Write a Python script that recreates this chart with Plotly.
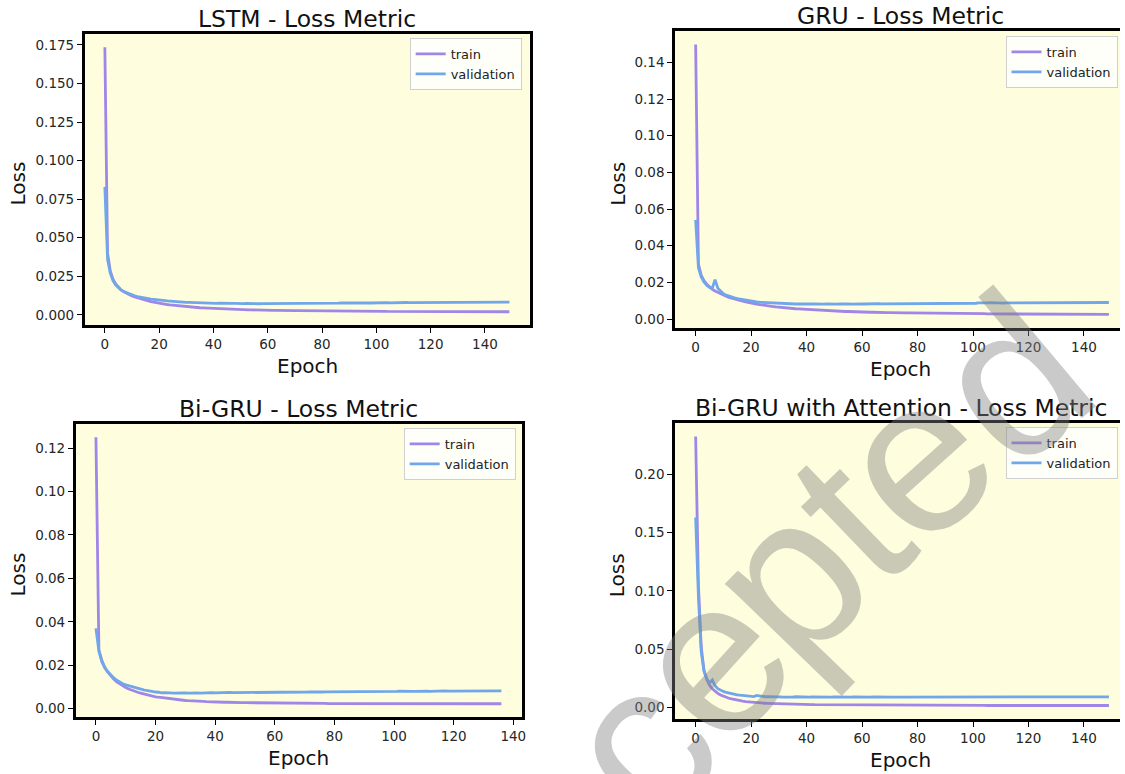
import plotly.graph_objects as go

# ---------------- data ----------------
EPOCHS = list(range(150))
BIGRU_EPOCHS = list(range(137))

LSTM_TRAIN = [
    0.1735, 0.0400, 0.0285, 0.0232, 0.0200, 0.0178, 0.0162, 0.0150, 0.0140, 0.0131,
    0.0123, 0.0116, 0.0110, 0.0104, 0.0099, 0.0094, 0.0090, 0.0086, 0.0082, 0.0078,
    0.0075, 0.0072, 0.0069, 0.0067, 0.0064, 0.0062, 0.0060, 0.0058, 0.0056, 0.0054,
    0.0053, 0.0051, 0.0050, 0.0048, 0.0047, 0.0046, 0.0045, 0.0044, 0.0043, 0.0042,
    0.0041, 0.0040, 0.0039, 0.0038, 0.0038, 0.0037, 0.0036, 0.0036, 0.0035, 0.0034,
    0.0034, 0.0033, 0.0033, 0.0032, 0.0032, 0.0031, 0.0031, 0.0031, 0.0030, 0.0030,
    0.0030, 0.0029, 0.0029, 0.0029, 0.0028, 0.0028, 0.0028, 0.0028, 0.0027, 0.0027,
    0.0027, 0.0027, 0.0027, 0.0026, 0.0026, 0.0026, 0.0026, 0.0026, 0.0025, 0.0025,
    0.0025, 0.0025, 0.0025, 0.0025, 0.0025, 0.0024, 0.0024, 0.0024, 0.0024, 0.0024,
    0.0024, 0.0024, 0.0024, 0.0023, 0.0023, 0.0023, 0.0023, 0.0023, 0.0023, 0.0023,
    0.0023, 0.0023, 0.0023, 0.0023, 0.0022, 0.0022, 0.0022, 0.0022, 0.0022, 0.0022,
    0.0022, 0.0022, 0.0022, 0.0022, 0.0022, 0.0022, 0.0022, 0.0022, 0.0022, 0.0021,
    0.0021, 0.0021, 0.0021, 0.0021, 0.0021, 0.0021, 0.0021, 0.0021, 0.0021, 0.0021,
    0.0021, 0.0021, 0.0021, 0.0021, 0.0021, 0.0021, 0.0021, 0.0021, 0.0021, 0.0021,
    0.0020, 0.0021, 0.0020, 0.0020, 0.0021, 0.0020, 0.0020, 0.0020, 0.0020, 0.0020,
]
LSTM_VAL = [
    0.0830, 0.0360, 0.0270, 0.0222, 0.0193, 0.0173, 0.0160, 0.0151, 0.0143, 0.0135,
    0.0128, 0.0124, 0.0119, 0.0115, 0.0111, 0.0108, 0.0104, 0.0102, 0.0100, 0.0097,
    0.0095, 0.0094, 0.0091, 0.0090, 0.0089, 0.0087, 0.0086, 0.0085, 0.0084, 0.0082,
    0.0081, 0.0081, 0.0080, 0.0079, 0.0079, 0.0078, 0.0077, 0.0078, 0.0076, 0.0076,
    0.0076, 0.0075, 0.0076, 0.0075, 0.0074, 0.0075, 0.0074, 0.0074, 0.0075, 0.0073,
    0.0074, 0.0073, 0.0074, 0.0073, 0.0073, 0.0074, 0.0073, 0.0072, 0.0073, 0.0073,
    0.0073, 0.0072, 0.0073, 0.0073, 0.0074, 0.0073, 0.0073, 0.0074, 0.0073, 0.0074,
    0.0074, 0.0073, 0.0074, 0.0075, 0.0074, 0.0074, 0.0075, 0.0074, 0.0075, 0.0075,
    0.0075, 0.0076, 0.0075, 0.0076, 0.0075, 0.0076, 0.0076, 0.0077, 0.0076, 0.0076,
    0.0077, 0.0076, 0.0077, 0.0077, 0.0078, 0.0077, 0.0077, 0.0078, 0.0077, 0.0078,
    0.0078, 0.0079, 0.0078, 0.0078, 0.0079, 0.0078, 0.0079, 0.0079, 0.0078, 0.0079,
    0.0079, 0.0080, 0.0079, 0.0079, 0.0080, 0.0079, 0.0080, 0.0080, 0.0079, 0.0080,
    0.0080, 0.0081, 0.0080, 0.0080, 0.0081, 0.0080, 0.0081, 0.0081, 0.0080, 0.0081,
    0.0081, 0.0082, 0.0081, 0.0081, 0.0082, 0.0083, 0.0082, 0.0081, 0.0082, 0.0082,
    0.0082, 0.0083, 0.0082, 0.0082, 0.0083, 0.0082, 0.0083, 0.0083, 0.0082, 0.0083,
]

GRU_TRAIN = [
    0.1497, 0.0300, 0.0240, 0.0210, 0.0190, 0.0175, 0.0162, 0.0153, 0.0145, 0.0137,
    0.0130, 0.0124, 0.0118, 0.0113, 0.0109, 0.0105, 0.0101, 0.0097, 0.0094, 0.0090,
    0.0087, 0.0084, 0.0081, 0.0079, 0.0076, 0.0074, 0.0072, 0.0070, 0.0068, 0.0066,
    0.0064, 0.0063, 0.0061, 0.0060, 0.0058, 0.0057, 0.0056, 0.0055, 0.0054, 0.0053,
    0.0052, 0.0051, 0.0050, 0.0049, 0.0048, 0.0047, 0.0047, 0.0046, 0.0045, 0.0044,
    0.0044, 0.0043, 0.0043, 0.0042, 0.0041, 0.0041, 0.0040, 0.0040, 0.0039, 0.0039,
    0.0038, 0.0038, 0.0038, 0.0037, 0.0037, 0.0036, 0.0036, 0.0036, 0.0035, 0.0035,
    0.0035, 0.0034, 0.0034, 0.0034, 0.0034, 0.0033, 0.0033, 0.0033, 0.0033, 0.0032,
    0.0032, 0.0032, 0.0032, 0.0032, 0.0031, 0.0031, 0.0031, 0.0031, 0.0031, 0.0030,
    0.0030, 0.0030, 0.0030, 0.0030, 0.0030, 0.0030, 0.0029, 0.0029, 0.0029, 0.0029,
    0.0029, 0.0029, 0.0029, 0.0029, 0.0029, 0.0028, 0.0028, 0.0028, 0.0028, 0.0028,
    0.0028, 0.0028, 0.0028, 0.0028, 0.0028, 0.0027, 0.0027, 0.0027, 0.0027, 0.0027,
    0.0027, 0.0027, 0.0027, 0.0027, 0.0027, 0.0027, 0.0027, 0.0026, 0.0026, 0.0026,
    0.0026, 0.0026, 0.0026, 0.0026, 0.0026, 0.0026, 0.0026, 0.0026, 0.0026, 0.0026,
    0.0026, 0.0025, 0.0026, 0.0025, 0.0025, 0.0025, 0.0025, 0.0025, 0.0025, 0.0025,
]
GRU_VAL = [
    0.0540, 0.0280, 0.0230, 0.0202, 0.0184, 0.0172, 0.0168, 0.0215, 0.0168, 0.0150,
    0.0138, 0.0130, 0.0124, 0.0119, 0.0115, 0.0111, 0.0108, 0.0105, 0.0102, 0.0100,
    0.0098, 0.0096, 0.0094, 0.0092, 0.0091, 0.0089, 0.0088, 0.0088, 0.0086, 0.0086,
    0.0085, 0.0084, 0.0085, 0.0083, 0.0084, 0.0083, 0.0082, 0.0083, 0.0082, 0.0083,
    0.0082, 0.0081, 0.0082, 0.0083, 0.0081, 0.0082, 0.0081, 0.0082, 0.0081, 0.0081,
    0.0082, 0.0081, 0.0082, 0.0083, 0.0082, 0.0082, 0.0081, 0.0082, 0.0083, 0.0082,
    0.0083, 0.0082, 0.0083, 0.0083, 0.0082, 0.0083, 0.0084, 0.0083, 0.0083, 0.0084,
    0.0083, 0.0084, 0.0085, 0.0084, 0.0084, 0.0085, 0.0084, 0.0085, 0.0084, 0.0085,
    0.0085, 0.0084, 0.0085, 0.0086, 0.0085, 0.0085, 0.0086, 0.0085, 0.0086, 0.0086,
    0.0085, 0.0086, 0.0087, 0.0086, 0.0086, 0.0087, 0.0086, 0.0087, 0.0086, 0.0087,
    0.0087, 0.0086, 0.0088, 0.0087, 0.0087, 0.0088, 0.0089, 0.0088, 0.0087, 0.0088,
    0.0088, 0.0087, 0.0088, 0.0088, 0.0089, 0.0088, 0.0088, 0.0089, 0.0088, 0.0088,
    0.0089, 0.0088, 0.0089, 0.0089, 0.0088, 0.0089, 0.0089, 0.0088, 0.0089, 0.0089,
    0.0089, 0.0088, 0.0089, 0.0089, 0.0090, 0.0091, 0.0089, 0.0089, 0.0090, 0.0089,
    0.0089, 0.0090, 0.0089, 0.0090, 0.0090, 0.0089, 0.0090, 0.0090, 0.0089, 0.0090,
]

BIGRU_TRAIN = [
    0.1250, 0.0270, 0.0222, 0.0190, 0.0168, 0.0150, 0.0136, 0.0124, 0.0114, 0.0105,
    0.0098, 0.0091, 0.0085, 0.0080, 0.0076, 0.0072, 0.0068, 0.0064, 0.0061, 0.0058,
    0.0055, 0.0053, 0.0051, 0.0049, 0.0047, 0.0045, 0.0044, 0.0042, 0.0041, 0.0040,
    0.0038, 0.0037, 0.0037, 0.0036, 0.0035, 0.0034, 0.0034, 0.0033, 0.0032, 0.0032,
    0.0031, 0.0031, 0.0030, 0.0030, 0.0030, 0.0029, 0.0029, 0.0029, 0.0028, 0.0028,
    0.0028, 0.0028, 0.0027, 0.0027, 0.0027, 0.0027, 0.0027, 0.0027, 0.0026, 0.0026,
    0.0026, 0.0026, 0.0026, 0.0026, 0.0026, 0.0026, 0.0025, 0.0025, 0.0025, 0.0025,
    0.0025, 0.0025, 0.0025, 0.0025, 0.0025, 0.0025, 0.0025, 0.0025, 0.0024, 0.0024,
    0.0024, 0.0024, 0.0024, 0.0024, 0.0024, 0.0024, 0.0024, 0.0024, 0.0024, 0.0024,
    0.0024, 0.0024, 0.0024, 0.0024, 0.0024, 0.0024, 0.0023, 0.0023, 0.0023, 0.0023,
    0.0023, 0.0023, 0.0023, 0.0023, 0.0023, 0.0023, 0.0023, 0.0023, 0.0023, 0.0023,
    0.0023, 0.0023, 0.0023, 0.0023, 0.0023, 0.0023, 0.0023, 0.0023, 0.0023, 0.0023,
    0.0023, 0.0023, 0.0023, 0.0023, 0.0023, 0.0023, 0.0023, 0.0023, 0.0023, 0.0023,
    0.0023, 0.0023, 0.0023, 0.0023, 0.0023, 0.0023, 0.0023,
]
BIGRU_VAL = [
    0.0370, 0.0265, 0.0215, 0.0188, 0.0170, 0.0155, 0.0142, 0.0131, 0.0122, 0.0115,
    0.0110, 0.0106, 0.0100, 0.0098, 0.0093, 0.0089, 0.0087, 0.0084, 0.0081, 0.0079,
    0.0077, 0.0076, 0.0073, 0.0074, 0.0072, 0.0073, 0.0072, 0.0073, 0.0072, 0.0073,
    0.0073, 0.0072, 0.0073, 0.0074, 0.0073, 0.0072, 0.0073, 0.0074, 0.0073, 0.0074,
    0.0073, 0.0074, 0.0074, 0.0073, 0.0074, 0.0075, 0.0074, 0.0074, 0.0075, 0.0074,
    0.0075, 0.0075, 0.0074, 0.0075, 0.0076, 0.0075, 0.0075, 0.0076, 0.0075, 0.0076,
    0.0076, 0.0075, 0.0076, 0.0077, 0.0076, 0.0076, 0.0077, 0.0076, 0.0077, 0.0077,
    0.0076, 0.0077, 0.0078, 0.0077, 0.0077, 0.0078, 0.0077, 0.0078, 0.0078, 0.0077,
    0.0078, 0.0078, 0.0079, 0.0078, 0.0078, 0.0079, 0.0078, 0.0079, 0.0079, 0.0078,
    0.0079, 0.0080, 0.0079, 0.0079, 0.0080, 0.0079, 0.0080, 0.0079, 0.0080, 0.0080,
    0.0079, 0.0080, 0.0081, 0.0080, 0.0080, 0.0081, 0.0080, 0.0080, 0.0081, 0.0080,
    0.0081, 0.0081, 0.0080, 0.0081, 0.0081, 0.0080, 0.0081, 0.0082, 0.0081, 0.0081,
    0.0082, 0.0081, 0.0081, 0.0082, 0.0081, 0.0082, 0.0082, 0.0081, 0.0082, 0.0081,
    0.0082, 0.0082, 0.0081, 0.0082, 0.0082, 0.0081, 0.0082,
]

ATT_TRAIN = [
    0.2325, 0.1050, 0.0520, 0.0320, 0.0240, 0.0190, 0.0160, 0.0136, 0.0120, 0.0106,
    0.0095, 0.0086, 0.0078, 0.0072, 0.0066, 0.0061, 0.0057, 0.0053, 0.0050, 0.0047,
    0.0045, 0.0042, 0.0040, 0.0038, 0.0037, 0.0035, 0.0034, 0.0033, 0.0032, 0.0031,
    0.0030, 0.0029, 0.0028, 0.0028, 0.0027, 0.0027, 0.0026, 0.0026, 0.0025, 0.0025,
    0.0024, 0.0024, 0.0024, 0.0023, 0.0023, 0.0023, 0.0022, 0.0022, 0.0022, 0.0022,
    0.0021, 0.0021, 0.0021, 0.0021, 0.0021, 0.0020, 0.0020, 0.0020, 0.0020, 0.0020,
    0.0020, 0.0020, 0.0019, 0.0019, 0.0019, 0.0019, 0.0019, 0.0019, 0.0019, 0.0019,
    0.0019, 0.0018, 0.0018, 0.0018, 0.0018, 0.0018, 0.0018, 0.0018, 0.0018, 0.0018,
    0.0018, 0.0018, 0.0018, 0.0018, 0.0017, 0.0017, 0.0017, 0.0017, 0.0017, 0.0017,
    0.0017, 0.0017, 0.0017, 0.0017, 0.0017, 0.0017, 0.0017, 0.0017, 0.0017, 0.0017,
    0.0017, 0.0017, 0.0017, 0.0017, 0.0017, 0.0016, 0.0016, 0.0016, 0.0016, 0.0016,
    0.0016, 0.0016, 0.0016, 0.0016, 0.0016, 0.0016, 0.0016, 0.0016, 0.0016, 0.0016,
    0.0016, 0.0016, 0.0016, 0.0016, 0.0016, 0.0016, 0.0016, 0.0016, 0.0016, 0.0016,
    0.0016, 0.0016, 0.0016, 0.0016, 0.0016, 0.0016, 0.0016, 0.0016, 0.0016, 0.0016,
    0.0016, 0.0016, 0.0016, 0.0016, 0.0016, 0.0016, 0.0016, 0.0016, 0.0016, 0.0016,
]
ATT_VAL = [
    0.1630, 0.0950, 0.0480, 0.0310, 0.0245, 0.0210, 0.0235, 0.0185, 0.0160, 0.0145,
    0.0137, 0.0128, 0.0122, 0.0116, 0.0112, 0.0108, 0.0105, 0.0102, 0.0099, 0.0097,
    0.0094, 0.0093, 0.0102, 0.0098, 0.0093, 0.0091, 0.0092, 0.0090, 0.0091, 0.0089,
    0.0090, 0.0089, 0.0088, 0.0090, 0.0089, 0.0088, 0.0091, 0.0089, 0.0088, 0.0089,
    0.0088, 0.0087, 0.0089, 0.0088, 0.0087, 0.0088, 0.0089, 0.0088, 0.0087, 0.0088,
    0.0089, 0.0088, 0.0087, 0.0088, 0.0088, 0.0087, 0.0088, 0.0089, 0.0088, 0.0087,
    0.0088, 0.0088, 0.0087, 0.0088, 0.0089, 0.0088, 0.0088, 0.0087, 0.0088, 0.0089,
    0.0088, 0.0087, 0.0088, 0.0088, 0.0089, 0.0088, 0.0087, 0.0088, 0.0089, 0.0088,
    0.0088, 0.0087, 0.0088, 0.0089, 0.0088, 0.0088, 0.0089, 0.0088, 0.0087, 0.0088,
    0.0089, 0.0088, 0.0088, 0.0089, 0.0088, 0.0089, 0.0088, 0.0088, 0.0089, 0.0088,
    0.0089, 0.0088, 0.0089, 0.0089, 0.0088, 0.0089, 0.0088, 0.0089, 0.0089, 0.0088,
    0.0089, 0.0089, 0.0088, 0.0089, 0.0089, 0.0090, 0.0089, 0.0089, 0.0088, 0.0089,
    0.0089, 0.0090, 0.0089, 0.0089, 0.0090, 0.0089, 0.0089, 0.0090, 0.0089, 0.0090,
    0.0089, 0.0090, 0.0090, 0.0089, 0.0090, 0.0090, 0.0089, 0.0090, 0.0090, 0.0089,
    0.0090, 0.0090, 0.0091, 0.0090, 0.0090, 0.0091, 0.0090, 0.0090, 0.0091, 0.0090,
]

TITLES = ["LSTM - Loss Metric", "GRU - Loss Metric",
          "Bi-GRU - Loss Metric", "Bi-GRU with Attention - Loss Metric"]
SERIES_NAMES = ["train", "validation"]
X_TICKS = [0, 20, 40, 60, 80, 100, 120, 140]
Y_TICKS = [
    [0.000, 0.025, 0.050, 0.075, 0.100, 0.125, 0.150, 0.175],
    [0.00, 0.02, 0.04, 0.06, 0.08, 0.10, 0.12, 0.14],
    [0.00, 0.02, 0.04, 0.06, 0.08, 0.10, 0.12],
    [0.00, 0.05, 0.10, 0.15, 0.20],
]
Y_FORMATS = [".3f", ".2f", ".2f", ".2f"]
WATERMARK = "Accepted"

# ---------------- layout helpers ----------------
W, H = 1125, 774
FONT = "DejaVu Sans"
TRAIN_COLOR = "#A086E8"
VAL_COLOR = "#6FA7EA"
BG = "#FEFDDD"

def px_x(p):
    return p / W

def px_y(p):
    return 1 - p / H

# frames in pixels: (left, right, top, bottom)
FRAMES = [
    (85, 532, 34, 325),
    (678, 1125, 31, 328),
    (76, 524, 424, 717),
    (678, 1125, 423, 719),
]
X_RANGES = [[-7.45, 156.45], [-7.45, 153.0], [-6.8, 142.8], [-7.45, 153.0]]
Y_RANGES = [[-0.00658, 0.1821], [-0.0049, 0.1571], [-0.0038, 0.1311], [-0.0100, 0.2441]]
LEGEND_POS = [  # (x px, y px, xanchor)
    (524, 38, "right"),
    (1010, 36, "left"),
    (518, 428, "right"),
    (1010, 427, "left"),
]
YLABEL_OFFSET = [67, 58, 58, 58]
DATA = [
    (EPOCHS, LSTM_TRAIN, LSTM_VAL),
    (EPOCHS, GRU_TRAIN, GRU_VAL),
    (BIGRU_EPOCHS, BIGRU_TRAIN, BIGRU_VAL),
    (EPOCHS, ATT_TRAIN, ATT_VAL),
]

fig = go.Figure()
annotations = []
layout = dict(
    width=W, height=H,
    margin=dict(l=0, r=0, t=0, b=0),
    paper_bgcolor="white",
    plot_bgcolor=BG,
    font=dict(family=FONT, color="#222222"),
    showlegend=True,
)

for i, (frame, xr, yr, (ex, tr, va)) in enumerate(zip(FRAMES, X_RANGES, Y_RANGES, DATA)):
    n = "" if i == 0 else str(i + 1)
    lg = "legend" if i == 0 else "legend" + str(i + 1)
    left, right, top, bottom = frame
    right_cut = right >= W
    fig.add_trace(go.Scatter(x=ex, y=tr, mode="lines", name=SERIES_NAMES[0],
                             line=dict(color=TRAIN_COLOR, width=2.8),
                             xaxis="x" + n, yaxis="y" + n, legend=lg))
    fig.add_trace(go.Scatter(x=ex, y=va, mode="lines", name=SERIES_NAMES[1],
                             line=dict(color=VAL_COLOR, width=2.8),
                             xaxis="x" + n, yaxis="y" + n, legend=lg))
    layout["xaxis" + n] = dict(
        domain=[px_x(left), px_x(right)], anchor="y" + n, range=xr,
        showgrid=False, zeroline=False, showline=True, linecolor="black",
        linewidth=2.5, mirror=True, ticks="outside", ticklen=5, tickwidth=1.2,
        tickcolor="black", tickvals=X_TICKS,
        tickfont=dict(size=13.5, family=FONT, color="#262626"),
    )
    layout["yaxis" + n] = dict(
        domain=[px_y(bottom), px_y(top)], anchor="x" + n, range=yr,
        showgrid=False, zeroline=False, showline=True, linecolor="black",
        linewidth=2.5, mirror=(not right_cut), ticks="outside", ticklen=5,
        tickwidth=1.2, tickcolor="black", tickvals=Y_TICKS[i],
        tickformat=Y_FORMATS[i],
        tickfont=dict(size=13.5, family=FONT, color="#262626"),
    )
    lx, ly, xa = LEGEND_POS[i]
    layout[lg] = dict(
        x=px_x(lx), y=px_y(ly), xanchor=xa, yanchor="top",
        bgcolor="rgba(255,255,255,0.85)", bordercolor="#d0d0d0", borderwidth=1,
        font=dict(size=13, family=FONT, color="#222222"),
        itemwidth=30, tracegroupgap=0,
    )
    cx = 905 if right_cut else (left + right) / 2
    # title
    annotations.append(dict(
        text=TITLES[i], x=px_x(cx), y=px_y(top + 1), xref="paper", yref="paper",
        xanchor="center", yanchor="bottom", showarrow=False,
        font=dict(size=23.5, family=FONT, color="#111111"),
    ))
    # x label
    annotations.append(dict(
        text="Epoch", x=px_x(cx), y=px_y(bottom + 27), xref="paper", yref="paper",
        xanchor="center", yanchor="top", showarrow=False,
        font=dict(size=20, family=FONT, color="#111111"),
    ))
    # y label
    annotations.append(dict(
        text="Loss", x=px_x(left - YLABEL_OFFSET[i]), y=px_y((top + bottom) / 2 + 4),
        xref="paper", yref="paper", xanchor="center", yanchor="middle",
        showarrow=False, textangle=-90,
        font=dict(size=20, family=FONT, color="#111111"),
    ))

# watermark letters along an arc (x px, y px, angle)
WM_POS = [(496, 922, -54), (568, 827, -52), (640, 745, -50), (712, 660, -48),
          (790, 578, -46), (852, 517, -44), (918, 458, -42), (1016, 378, -40)]
for ch, (wx, wy, ang) in zip(WATERMARK, WM_POS):
    annotations.append(dict(
        text=ch, x=px_x(wx), y=px_y(wy), xref="paper", yref="paper",
        xanchor="center", yanchor="middle", showarrow=False, textangle=ang,
        font=dict(size=220, family="Liberation Sans", color="rgba(128,128,128,0.42)"),
    ))

layout["annotations"] = annotations
fig.update_layout(**layout)
fig.write_html("out.html", config={"displayModeBar": False},
               post_script="document.body.style.margin='0px';")
